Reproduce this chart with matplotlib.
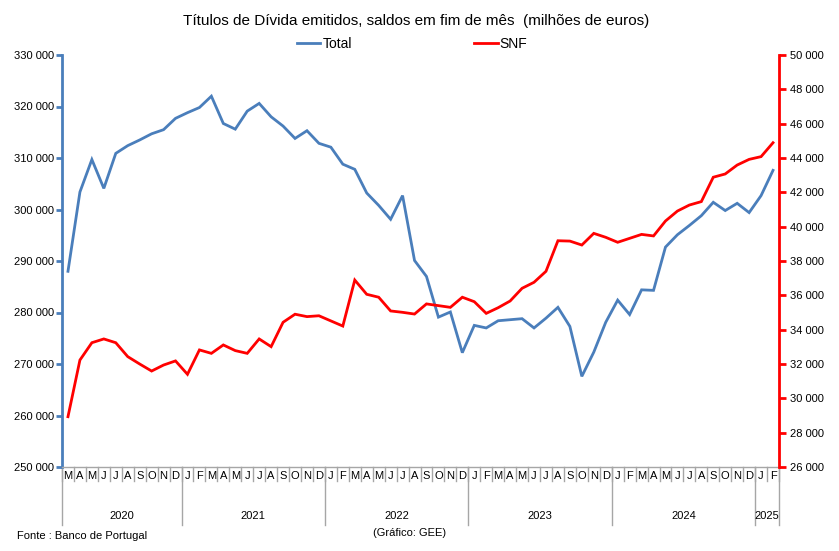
import matplotlib
matplotlib.use("Agg")
import matplotlib.pyplot as plt
from matplotlib.lines import Line2D
from matplotlib.ticker import FuncFormatter, MultipleLocator

plt.rcParams['font.family'] = ['Liberation Sans', 'DejaVu Sans']

# Categories: monthly, Mar 2020 - Feb 2025
years = ['2020', '2021', '2022', '2023', '2024', '2025']
months_per_year = [
    ['M', 'A', 'M', 'J', 'J', 'A', 'S', 'O', 'N', 'D'],
    ['J', 'F', 'M', 'A', 'M', 'J', 'J', 'A', 'S', 'O', 'N', 'D'],
    ['J', 'F', 'M', 'A', 'M', 'J', 'J', 'A', 'S', 'O', 'N', 'D'],
    ['J', 'F', 'M', 'A', 'M', 'J', 'J', 'A', 'S', 'O', 'N', 'D'],
    ['J', 'F', 'M', 'A', 'M', 'J', 'J', 'A', 'S', 'O', 'N', 'D'],
    ['J', 'F'],
]

total = [288000, 303400, 309700, 304100, 310900, 312400, 313500, 314700, 315500, 317700,
         318800, 319800, 322000, 316700, 315600, 319100, 320600, 318000, 316200, 313800, 315300, 312850,
         312100, 308800, 307800, 303200, 300800, 298100, 302700, 290100, 287000, 279100, 280100, 272200,
         277500, 277000, 278400, 278600, 278800, 277000, 278900, 281000, 277300, 267600, 272300, 278100,
         282400, 279600, 284400, 284300, 292700, 295100, 296900, 298800, 301400, 299800, 301200, 299400,
         302700, 307600]

snf = [28930, 32230, 33240, 33460, 33240, 32430, 32000, 31590, 31940, 32180,
       31400, 32820, 32620, 33110, 32780, 32620, 33460, 33010, 34430, 34900, 34760, 34810,
       34510, 34210, 36890, 36060, 35890, 35090, 35010, 34910, 35500, 35400, 35300, 35890,
       35630, 34950, 35280, 35670, 36410, 36760, 37400, 39180, 39160, 38930, 39610, 39380,
       39090, 39320, 39550, 39460, 40330, 40910, 41260, 41460, 42880, 43070, 43590, 43920,
       44080, 44890]

blue = '#4A7EBB'
red = '#FF0000'
gray = '#A6A6A6'

fig = plt.figure(figsize=(8.39, 5.51), dpi=100)
ax = fig.add_axes([62/839, 1-467/551, (779-62)/839, (467-55)/551])
ax2 = ax.twinx()

x = list(range(len(total)))
l1, = ax.plot(x, total, color=blue, lw=2.0, solid_joinstyle='miter', label='Total')
l2, = ax2.plot(x, snf, color=red, lw=2.0, solid_joinstyle='miter', label='SNF')

n = len(total)
ax.set_xlim(-0.5, n - 0.5)
ax.set_ylim(250000, 330000)
ax2.set_ylim(26000, 50000)
ax.yaxis.set_major_locator(MultipleLocator(10000))
ax2.yaxis.set_major_locator(MultipleLocator(2000))

fmt = FuncFormatter(lambda v, p: f"{int(round(v)):,}".replace(',', ' '))
ax.yaxis.set_major_formatter(fmt)
ax2.yaxis.set_major_formatter(fmt)

for a in (ax, ax2):
    a.spines['top'].set_visible(False)
ax.spines['right'].set_visible(False)
ax2.spines['left'].set_visible(False)
ax2.spines['bottom'].set_visible(False)
ax.spines['left'].set_color(blue)
ax.spines['left'].set_linewidth(2.0)
ax2.spines['right'].set_color(red)
ax2.spines['right'].set_linewidth(2.0)
ax.spines['bottom'].set_color(gray)
ax.spines['bottom'].set_linewidth(1.0)

ax.tick_params(axis='y', colors=blue, width=2.0, length=4, labelsize=8, labelcolor='black', pad=2)
ax2.tick_params(axis='y', colors=red, width=2.0, length=5, labelsize=8, labelcolor='black', pad=3)

ax.set_xticks([])
ax2.set_xticks([])

# Month labels and separators
trans = ax.get_xaxis_transform()
month_labels = [m for ms in months_per_year for m in ms]
for i, m in enumerate(month_labels):
    ax.text(i, -0.022, m, transform=trans, ha='center', va='center', fontsize=8, color='black')
for i in range(n + 1):
    ax.add_line(Line2D([i - 0.5, i - 0.5], [0, -0.035], transform=trans, color=gray, lw=1.0, clip_on=False))

start = 0
for yr, ms in zip(years, months_per_year):
    end = start + len(ms)
    ax.add_line(Line2D([start - 0.5, start - 0.5], [0, -0.14], transform=trans, color=gray, lw=1.0, clip_on=False))
    ax.text((start + end - 1) / 2, -0.118, yr, transform=trans, ha='center', va='center', fontsize=8)
    start = end
ax.add_line(Line2D([n - 0.5, n - 0.5], [0, -0.14], transform=trans, color=gray, lw=1.0, clip_on=False))

fig.text(416/839, 1-21/551, 'Títulos de Dívida emitidos, saldos em fim de mês  (milhões de euros)',
         ha='center', va='center', fontsize=11)

fig.legend([l1, l2], ['Total', 'SNF'], loc='center', bbox_to_anchor=(412/839, 1-44/551),
           ncol=2, frameon=False, fontsize=10, handlelength=1.7, columnspacing=8.8,
           handletextpad=0.15, borderpad=0.2)

fig.text(17/839, 1-536/551, 'Fonte : Banco de Portugal', ha='left', va='center', fontsize=8)
fig.text(373/839, 1-533/551, '(Gráfico: GEE)', ha='left', va='center', fontsize=8)

fig.savefig('out.png', dpi=100)
